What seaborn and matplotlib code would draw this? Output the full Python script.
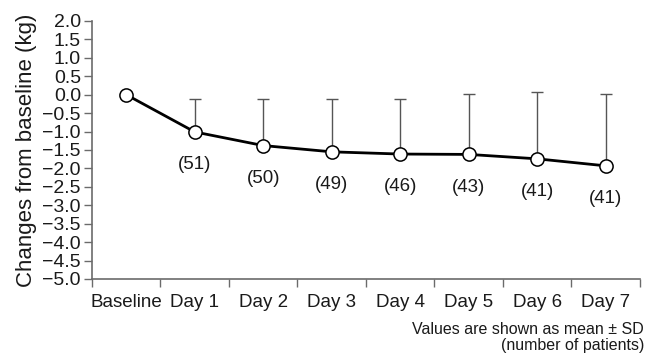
import numpy as np
import pandas as pd
import matplotlib
matplotlib.use("Agg")
import matplotlib.pyplot as plt
import seaborn as sns

# Mean weight change from baseline, upper SD and number of patients per visit
days = ["Baseline", "Day 1", "Day 2", "Day 3", "Day 4", "Day 5", "Day 6", "Day 7"]
mean_change = [0.0, -1.01, -1.38, -1.55, -1.61, -1.62, -1.74, -1.93]
sd = [0.0, 0.89, 1.26, 1.43, 1.49, 1.63, 1.81, 1.94]
n_patients = [None, 51, 50, 49, 46, 43, 41, 41]
y_ticks = [2.0, 1.5, 1.0, 0.5, 0.0, -0.5, -1.0, -1.5, -2.0, -2.5, -3.0,
           -3.5, -4.0, -4.5, -5.0]

sns.set_theme(style="ticks")
plt.rcParams["font.family"] = ["Liberation Sans", "DejaVu Sans"]

df = pd.DataFrame({"pos": np.arange(len(days)), "day": days,
                   "mean": mean_change, "sd": sd})

fig = plt.figure(figsize=(6.46, 3.54), dpi=100)
ax = fig.add_axes([0.1424, 0.2119, 0.8483, 0.7288])

spine_col = "#6b6b6b"
text_col = "#1a1a1a"

# upper SD whiskers only
has_sd = df["sd"] > 0
ax.errorbar(df.loc[has_sd, "pos"], df.loc[has_sd, "mean"],
            yerr=[np.zeros(has_sd.sum()), df.loc[has_sd, "sd"]],
            fmt="none", ecolor="#555555", elinewidth=1.0,
            capsize=4.2, capthick=1.0, zorder=2)

sns.lineplot(data=df, x="pos", y="mean", ax=ax, color="black", linewidth=2.0,
             marker="o", markersize=9.5, markerfacecolor="white",
             markeredgecolor="black", markeredgewidth=1.1, zorder=3)

# patient counts beneath each point
for p, m, n in zip(df["pos"], df["mean"], n_patients):
    if n is None:
        continue
    ax.annotate(f"({n})", (p, m), xytext=(0, -23.5), textcoords="offset points",
                ha="center", va="center", fontsize=13.5, color=text_col)

ax.set_xlim(-0.5, len(days) - 0.5)
ax.set_ylim(-5.0, 2.0)

ax.set_yticks(y_ticks)
ax.set_yticklabels([f"{v:.1f}".replace("-", "\u2212") for v in y_ticks])

# boundary ticks on the x axis, labels centred between them
ax.set_xticks(np.arange(len(days) + 1) - 0.5)
ax.set_xticklabels([])
ax.set_xticks(np.arange(len(days)), minor=True)
ax.set_xticklabels(days, minor=True)
ax.tick_params(axis="x", which="minor", length=0, pad=10.5, labelsize=13.5,
               labelcolor=text_col)
ax.tick_params(axis="x", which="major", length=6, width=1.0, color=spine_col,
               direction="out")
ax.tick_params(axis="y", length=6, width=1.0, color=spine_col, pad=2,
               labelsize=14, labelcolor=text_col)

sns.despine(ax=ax)
for s in ("left", "bottom"):
    ax.spines[s].set_color(spine_col)
    ax.spines[s].set_linewidth(1.2)

ax.set_xlabel("")
ax.set_ylabel("Changes from baseline (kg)", fontsize=16, color=text_col,
              labelpad=4)

fig.text(0.997, 0.047, "Values are shown as mean \u00b1 SD\n(number of patients)",
         ha="right", va="center", fontsize=11.5, color=text_col,
         multialignment="right", linespacing=1.05)

fig.savefig("out.png", dpi=100)
